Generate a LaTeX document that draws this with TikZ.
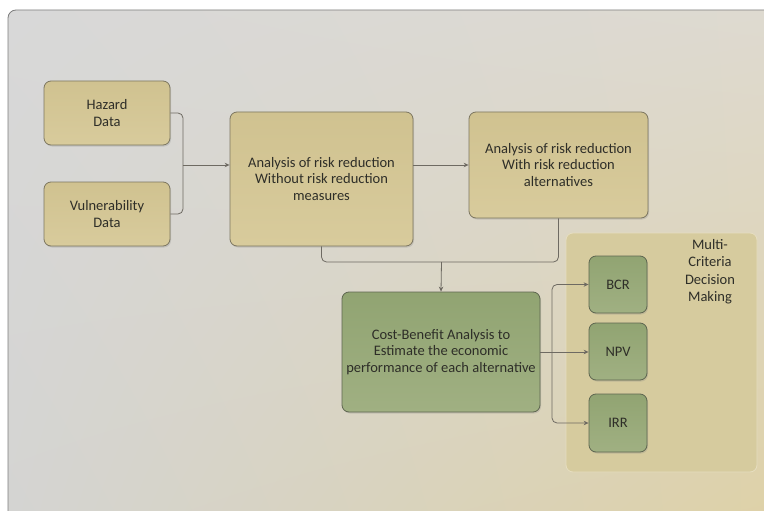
\documentclass[tikz,border=0pt]{standalone}
\usepackage{fontspec}
\setmainfont{Carlito}
\usetikzlibrary{arrows.meta,shadows,shadings}
\definecolor{bgUL}{HTML}{D8D8D8}
\definecolor{bgUR}{HTML}{DEDAD0}
\definecolor{bgLL}{HTML}{D4D4D2}
\definecolor{bgLR}{HTML}{DED1A6}
\definecolor{frameC}{HTML}{7E7E7E}
\definecolor{tanTop}{HTML}{D0C290}
\definecolor{tanBot}{HTML}{D8CB9C}
\definecolor{tanEdge}{HTML}{7C7660}
\definecolor{grnTop}{HTML}{91A472}
\definecolor{grnBot}{HTML}{A0B082}
\definecolor{grnEdge}{HTML}{5E6650}
\definecolor{mcdmFill}{HTML}{D6CB9E}
\definecolor{mcdmEdge}{HTML}{E6DEC0}
\definecolor{lineC}{HTML}{6E6A62}
\definecolor{txtC}{HTML}{2E2E28}
\tikzset{
  box/.style={draw=tanEdge, line width=0.8pt, rounded corners=7pt, align=center,
    top color=tanTop, bottom color=tanBot, text=txtC, font=\fontsize{14.5}{16.8}\selectfont,
    drop shadow={shadow xshift=1pt, shadow yshift=-1.5pt, opacity=0.25}},
  gbox/.style={box, draw=grnEdge, top color=grnTop, bottom color=grnBot},
  conn/.style={draw=lineC, line width=0.8pt, rounded corners=5pt},
  arr/.style={conn, -{Stealth[length=5pt,width=4.5pt]}}
}
\begin{document}
\begin{tikzpicture}[x=1pt,y=-1pt]
\useasboundingbox (0,0) rectangle (764,511);
\fill[white] (0,0) rectangle (764,511);
\shade[rounded corners=8pt, shading=bilinear interpolation,
  upper left=bgUL, upper right=bgUR, lower left=bgLL, lower right=bgLR]
  (8,10) rectangle (780,530);
\draw[frameC, line width=0.8pt, rounded corners=8pt] (8,540) -- (8,10) -- (790,10);

% MCDM container
\node[draw=mcdmEdge, fill=mcdmFill, rounded corners=7pt, line width=0.8pt,
  minimum width=191pt, minimum height=239pt] (mcdm) at (661.5,352.5) {};
\node[align=center, text=txtC, font=\fontsize{14.5}{17.3}\selectfont, anchor=north] (mcdmlbl) at (710,236)
  {Multi-\\Criteria\\Decision\\Making};

\node[box, minimum width=126pt, minimum height=64pt] (hazard) at (107,113) {Hazard\\Data};
\node[box, minimum width=126pt, minimum height=64pt] (vuln) at (107,214) {Vulnerability\\Data};
\node[box, minimum width=183pt, minimum height=134pt] (a1) at (321.5,179)
  {Analysis of risk reduction\\Without risk reduction\\measures};
\node[box, minimum width=179pt, minimum height=106pt] (a2) at (558.5,165)
  {Analysis of risk reduction\\With risk reduction\\alternatives};
\node[gbox, minimum width=198pt, minimum height=120pt] (cba) at (441,352)
  {Cost-Benefit Analysis to\\Estimate the economic\\performance of each alternative};
\node[gbox, minimum width=58pt, minimum height=57pt] (bcr) at (618,284.5) {BCR};
\node[gbox, minimum width=58pt, minimum height=57pt] (npv) at (618,351.5) {NPV};
\node[gbox, minimum width=58pt, minimum height=58pt] (irr) at (618,423) {IRR};

% connectors
\coordinate (j1) at (183,165);
\coordinate (m1) at (441.5,262);
\coordinate (s1) at (552,352);
\draw[conn] (hazard.east) -| (j1);
\draw[conn] (vuln.east) -| (j1);
\draw[arr] (j1) -- (a1.west |- j1);
\draw[arr] (a1.east |- a2.west) -- (a2.west);
\draw[conn] (a1.south) |- (m1) -| (a2.south);
\draw[arr] (m1) -- (cba.north);
\draw[conn] (cba.east) -- (s1);
\draw[arr] (s1) |- (bcr.west);
\draw[arr] (s1) -- (npv.west |- s1);
\draw[arr] (s1) |- (irr.west);
\end{tikzpicture}
\end{document}
